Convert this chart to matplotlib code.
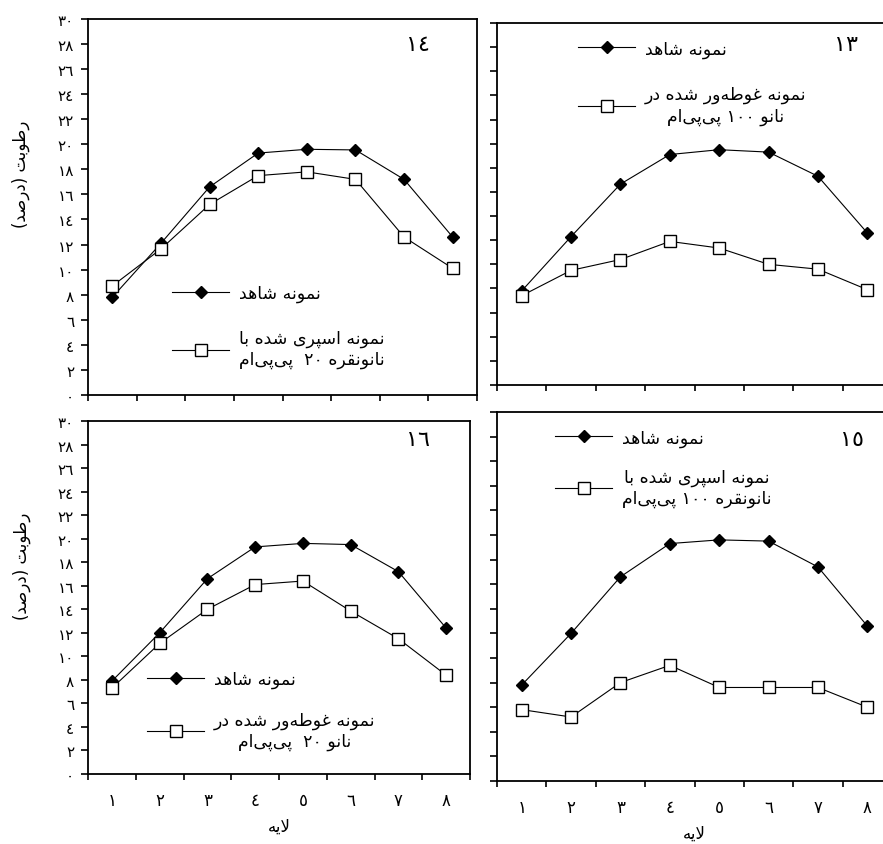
"""Moisture (%) by layer for control vs nano-silver treated samples, four panels."""

from __future__ import annotations

import re

import matplotlib

matplotlib.use("Agg")
import matplotlib.pyplot as plt
from matplotlib.ticker import FixedLocator, NullFormatter

plt.rcParams["font.family"] = ["DejaVu Sans"]

# ---- data ----
LAYERS = [1, 2, 3, 4, 5, 6, 7, 8]
LAYER_LABELS = ["١", "٢", "٣", "٤", "٥", "٦", "٧", "٨"]
Y_TICKS = [0, 2, 4, 6, 8, 10, 12, 14, 16, 18, 20, 22, 24, 26, 28, 30]
Y_LABELS = ["٠", "٢", "٤", "٦", "٨", "١٠", "١٢", "١٤", "١٦", "١٨",
            "٢٠", "٢٢", "٢٤", "٢٦", "٢٨", "٣٠"]

p14_control = [7.8, 12.1, 16.6, 19.3, 19.6, 19.55, 17.2, 12.6]
p14_treated = [8.7, 11.65, 15.2, 17.5, 17.8, 17.2, 12.6, 10.1]
p13_control = [7.8, 12.3, 16.65, 19.1, 19.5, 19.3, 17.3, 12.6]
p13_treated = [7.4, 9.5, 10.4, 11.9, 11.35, 10.0, 9.6, 7.9]
p16_control = [7.9, 12.0, 16.6, 19.3, 19.6, 19.5, 17.2, 12.4]
p16_treated = [7.3, 11.1, 14.0, 16.1, 16.4, 13.85, 11.5, 8.4]
p15_control = [7.8, 12.0, 16.6, 19.3, 19.6, 19.5, 17.4, 12.6]
p15_treated = [5.8, 5.2, 8.0, 9.4, 7.6, 7.6, 7.6, 6.0]

CONTROL_LABEL = "نمونه شاهد"
LABEL_14 = "نمونه اسپری شده با\nنانونقره ٢٠  پی‌پی‌ام"
LABEL_13 = "نمونه غوطه‌ور شده در\nنانو ١٠٠ پی‌پی‌ام"
LABEL_16 = "نمونه غوطه‌ور شده در\nنانو ٢٠  پی‌پی‌ام"
LABEL_15 = "نمونه اسپری شده با\nنانونقره ١٠٠ پی‌پی‌ام"
Y_TITLE = "رطوبت (درصد)"
X_TITLE = "لایه"

# ---- minimal Arabic/Persian shaping (matplotlib has no text shaping) ----
# isolated, final, initial, medial
FORMS = {
    "\u0627": ("\ufe8d", "\ufe8e", None, None),
    "\u0628": ("\ufe8f", "\ufe90", "\ufe91", "\ufe92"),
    "\u062a": ("\ufe95", "\ufe96", "\ufe97", "\ufe98"),
    "\u062f": ("\ufea9", "\ufeaa", None, None),
    "\u0631": ("\ufead", "\ufeae", None, None),
    "\u0633": ("\ufeb1", "\ufeb2", "\ufeb3", "\ufeb4"),
    "\u0634": ("\ufeb5", "\ufeb6", "\ufeb7", "\ufeb8"),
    "\u0635": ("\ufeb9", "\ufeba", "\ufebb", "\ufebc"),
    "\u0637": ("\ufec1", "\ufec2", "\ufec3", "\ufec4"),
    "\u063a": ("\ufecd", "\ufece", "\ufecf", "\ufed0"),
    "\u0642": ("\ufed5", "\ufed6", "\ufed7", "\ufed8"),
    "\u0644": ("\ufedd", "\ufede", "\ufedf", "\ufee0"),
    "\u0645": ("\ufee1", "\ufee2", "\ufee3", "\ufee4"),
    "\u0646": ("\ufee5", "\ufee6", "\ufee7", "\ufee8"),
    "\u0647": ("\ufee9", "\ufeea", "\ufeeb", "\ufeec"),
    "\u0648": ("\ufeed", "\ufeee", None, None),
    "\u06cc": ("\ufbfc", "\ufbfd", "\ufbfe", "\ufbff"),
    "\u067e": ("\ufb56", "\ufb57", "\ufb58", "\ufb59"),
}


def _joins_next(c):
    return c in FORMS and FORMS[c][2] is not None


def _shape(text: str) -> str:
    out = []
    i, n = 0, len(text)
    while i < n:
        c = text[i]
        if c not in FORMS:
            if c != "\u200c":
                out.append(c)
            i += 1
            continue
        prev_joins = i > 0 and _joins_next(text[i - 1])
        if c == "\u0644" and i + 1 < n and text[i + 1] == "\u0627":
            out.append("\ufefc" if prev_joins else "\ufefb")
            i += 2
            continue
        next_joins = _joins_next(c) and i + 1 < n and text[i + 1] in FORMS
        iso, fin, ini, med = FORMS[c]
        if prev_joins and next_joins:
            out.append(med)
        elif prev_joins:
            out.append(fin)
        elif next_joins:
            out.append(ini)
        else:
            out.append(iso)
        i += 1
    return "".join(out)


def fa(text: str) -> str:
    lines = []
    for line in text.split("\n"):
        vis = _shape(line)[::-1]
        vis = re.sub(r"[\u0660-\u0669]+", lambda m: m.group(0)[::-1], vis)
        lines.append(vis.translate(str.maketrans("()", ")(")))
    return "\n".join(lines)


# ---- plotting ----
PANELS = [
    # (position, control, treated, label, number, number xy, legend anchor,
    #  legend spacing, left, bottom)
    ([0.0997, 0.5314, 0.4405, 0.445], p14_control, p14_treated, LABEL_14,
     "١٤", (0.848, 0.934), (0.216, 0.295), 1.55, True, False),
    ([0.5629, 0.5432, 0.4473, 0.4284], p13_control, p13_treated, LABEL_13,
     "١٣", (0.884, 0.942), (0.205, 0.955), 1.6, False, False),
    ([0.0997, 0.0828, 0.4326, 0.4178], p16_control, p16_treated, LABEL_16,
     "١٦", (0.864, 0.949), (0.154, 0.295), 1.3, True, True),
    ([0.5629, 0.0746, 0.4473, 0.4367], p15_control, p15_treated, LABEL_15,
     "١٥", (0.899, 0.927), (0.147, 0.955), 1.2, False, True),
]


def draw_panel(fig, pos, control, treated, label, number, num_xy, leg_xy,
               spacing, show_y, show_x):
    ax = fig.add_axes(pos)
    l1, = ax.plot(LAYERS, control, color="black", lw=0.8, marker="D",
                  markersize=6, markerfacecolor="black", clip_on=False)
    l2, = ax.plot(LAYERS, treated, color="black", lw=0.8, marker="s",
                  markersize=8, markerfacecolor="white",
                  markeredgecolor="black", markeredgewidth=1.0, clip_on=False)

    ax.set_xlim(0.5, 8.5)
    ax.set_ylim(0, 30)
    for s in ax.spines.values():
        s.set_linewidth(1.3)

    # tick marks on category boundaries, labels at category centres
    ax.xaxis.set_major_locator(FixedLocator([b + 0.5 for b in [0] + LAYERS]))
    ax.xaxis.set_major_formatter(NullFormatter())
    ax.set_xticks(LAYERS, minor=True)
    if show_x:
        ax.set_xticklabels(LAYER_LABELS, minor=True, fontsize=12)
        ax.set_xlabel(fa(X_TITLE), fontsize=12, labelpad=6)
    ax.tick_params(axis="x", which="major", direction="out", length=4, width=1.2)
    ax.tick_params(axis="x", which="minor", length=0, pad=12)

    ax.set_yticks(Y_TICKS)
    if show_y:
        ax.set_yticklabels(Y_LABELS, fontsize=11)
        ax.set_ylabel(fa(Y_TITLE), fontsize=12)
        ax.yaxis.set_label_coords(-0.15, 0.59)
    else:
        ax.set_yticklabels([])
    ax.tick_params(axis="y", direction="out", length=5, width=1.2, pad=5)

    ax.text(num_xy[0], num_xy[1], number, transform=ax.transAxes,
            fontsize=16, ha="center", va="center")

    leg = ax.legend([l1, l2], [fa(CONTROL_LABEL), fa(label)],
                    loc="upper left", bbox_to_anchor=leg_xy, frameon=False,
                    fontsize=12.5, handlelength=3.3, handletextpad=0.55,
                    labelspacing=spacing, borderpad=0, borderaxespad=0)
    for t in leg.get_texts():
        t.set_multialignment("center")
    return ax


def main() -> None:
    fig = plt.figure(figsize=(8.83, 8.45), dpi=100)
    for panel in PANELS:
        draw_panel(fig, *panel)
    fig.savefig("out.png", dpi=100)


if __name__ == "__main__":
    main()
